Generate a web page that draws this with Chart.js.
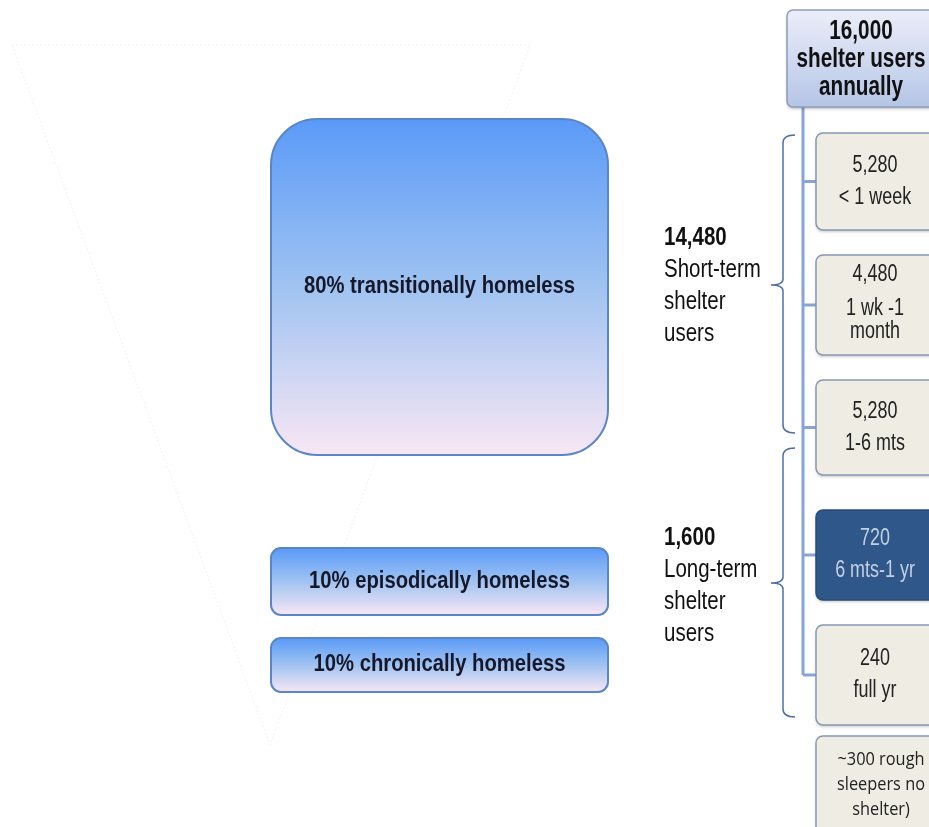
<!DOCTYPE html>
<html>
<head>
<meta charset="utf-8">
<script src="https://cdn.jsdelivr.net/npm/chart.js@4/dist/chart.umd.min.js"></script>
<style>
  html, body { margin: 0; padding: 0; background: #fff; }
  canvas { display: block; }
</style>
</head>
<body>
<canvas id="flow" width="929" height="827"></canvas>
<script>
// Shelter use data
const totalUsers = 16000;
const typeShares = [80, 10, 10];
const typeLabels = ['transitionally homeless', 'episodically homeless', 'chronically homeless'];
const groupTotals = [14480, 1600];
const groupLabels = [['Short-term', 'shelter', 'users'], ['Long-term', 'shelter', 'users']];
const stayCounts = [5280, 4480, 5280, 720, 240];
const stayLabels = [['< 1 week'], ['1 wk -1', 'month'], ['1-6 mts'], ['6 mts-1 yr'], ['full yr']];
const roughSleepers = 300;

// layout, in page pixels (scales run 0..929 and 0..827)
const typeBoxes = [[271, 119, 608, 455, 46], [271, 548, 608, 615, 10], [271, 638, 608, 692, 10]];
const stayBoxes = [[816, 133, 940, 230], [816, 255, 940, 355], [816, 380, 940, 475], [816, 510, 940, 600], [816, 625, 940, 725]];
const groupBraces = [[135, 433, 285], [448, 717, 583]];
const sans = '"Liberation Sans", Arial, sans-serif';
const fmt = n => n.toLocaleString('en-US');

// condensed text: no narrow face installed, so squeeze horizontally
function squeezed(c, t, x, y, sx, align) {
  c.save();
  c.translate(x, y);
  c.scale(sx, 1);
  c.textAlign = align || 'center';
  c.textBaseline = 'middle';
  c.fillText(t, 0, 0);
  c.restore();
}

const diagram = {
  id: 'diagram',
  afterDraw(chart) {
    const c = chart.ctx, sx = chart.scales.x, sy = chart.scales.y;
    const X = v => sx.getPixelForValue(v), Y = v => sy.getPixelForValue(v);
    c.save();

    // faint funnel behind the left boxes
    c.strokeStyle = '#f1f1f1';
    c.lineWidth = 1;
    c.setLineDash([2, 2]);
    c.beginPath();
    c.moveTo(X(12), Y(45)); c.lineTo(X(530), Y(45)); c.lineTo(X(270), Y(745)); c.closePath();
    c.stroke();
    c.setLineDash([]);

    // homeless type boxes
    typeBoxes.forEach((b, i) => {
      const [x0, y0, x1, y1, r] = b;
      const g = c.createLinearGradient(0, Y(y0), 0, Y(y1));
      g.addColorStop(0, '#5a9af8');
      g.addColorStop(0.5, '#a0c3f1');
      g.addColorStop(1, '#f8e7f4');
      c.beginPath();
      c.roundRect(X(x0), Y(y0), X(x1) - X(x0), Y(y1) - Y(y0), r);
      c.fillStyle = g; c.fill();
      c.strokeStyle = '#5b86c6'; c.lineWidth = 2; c.stroke();
      c.fillStyle = '#16182a';
      c.font = 'bold 23px ' + sans;
      squeezed(c, typeShares[i] + '% ' + typeLabels[i], X((x0 + x1) / 2), Y((y0 + y1) / 2), 0.88);
    });

    // connector from the total box
    c.strokeStyle = '#86a5d6';
    c.lineWidth = 3;
    c.beginPath();
    c.moveTo(X(803), Y(105));
    c.lineTo(X(803), Y((stayBoxes[4][1] + stayBoxes[4][3]) / 2));
    stayBoxes.forEach(b => {
      const my = (b[1] + b[3]) / 2;
      c.moveTo(X(803), Y(my)); c.lineTo(X(b[0]), Y(my));
    });
    c.stroke();

    // total box
    let g = c.createLinearGradient(0, Y(10), 0, Y(107));
    g.addColorStop(0, '#eceef9');
    g.addColorStop(1, '#b5c5e6');
    c.shadowColor = 'rgba(0,0,0,0.25)'; c.shadowBlur = 3; c.shadowOffsetY = 2;
    c.beginPath();
    c.roundRect(X(787), Y(10), X(945) - X(787), Y(107) - Y(10), 6);
    c.fillStyle = g; c.fill();
    c.shadowColor = 'transparent';
    c.strokeStyle = '#8d9cb8'; c.lineWidth = 1.5; c.stroke();
    c.fillStyle = '#111';
    c.font = 'bold 28px ' + sans;
    [fmt(totalUsers), 'shelter users', 'annually'].forEach((t, k) => squeezed(c, t, X(861), Y(31 + k * 28), 0.74));

    // length of stay boxes
    stayBoxes.forEach((b, i) => {
      const [x0, y0, x1, y1] = b;
      const dark = stayCounts[i] === 720;
      c.shadowColor = 'rgba(0,0,0,0.2)'; c.shadowBlur = 3; c.shadowOffsetY = 2;
      c.beginPath();
      c.roundRect(X(x0), Y(y0), X(x1) - X(x0), Y(y1) - Y(y0), 7);
      c.fillStyle = dark ? '#2f5789' : '#eeece3'; c.fill();
      c.shadowColor = 'transparent';
      c.strokeStyle = dark ? '#2a4b78' : '#8797b4'; c.lineWidth = 1.5; c.stroke();
      c.fillStyle = dark ? '#c3d0e4' : '#222';
      c.font = '23px ' + sans;
      const lines = [fmt(stayCounts[i])].concat(stayLabels[i]);
      const cx = X(875), my = (y0 + y1) / 2;
      const top = lines.length === 2 ? my - 16 : my - 30;
      const steps = lines.length === 2 ? [0, 32] : [0, 34, 57];
      lines.forEach((t, k) => squeezed(c, t, cx, Y(top + steps[k]), 0.78));
    });

    // rough sleepers box
    c.shadowColor = 'rgba(0,0,0,0.2)'; c.shadowBlur = 3; c.shadowOffsetY = 2;
    c.beginPath();
    c.roundRect(X(816), Y(736), X(940) - X(816), Y(840) - Y(736), 7);
    c.fillStyle = '#eeece3'; c.fill();
    c.shadowColor = 'transparent';
    c.strokeStyle = '#8797b4'; c.lineWidth = 1.5; c.stroke();
    c.fillStyle = '#222';
    c.font = '19px "Open Sans", ' + sans;
    ['~' + roughSleepers + ' rough', 'sleepers no', 'shelter)'].forEach((t, k) => squeezed(c, t, X(881), Y(760 + k * 25), 0.86));

    // braces and group labels
    c.strokeStyle = '#4d70a6';
    c.lineWidth = 1.5;
    groupBraces.forEach((b, i) => {
      const [t, btm, tip] = b;
      c.beginPath();
      c.moveTo(X(795), Y(t)); c.quadraticCurveTo(X(783), Y(t), X(783), Y(t + 8));
      c.lineTo(X(783), Y(tip - 6)); c.quadraticCurveTo(X(783), Y(tip), X(771), Y(tip));
      c.quadraticCurveTo(X(783), Y(tip), X(783), Y(tip + 6));
      c.lineTo(X(783), Y(btm - 8)); c.quadraticCurveTo(X(783), Y(btm), X(795), Y(btm));
      c.stroke();

      const baseY = i === 0 ? 238 : 538;
      c.fillStyle = '#111';
      c.font = 'bold 25px ' + sans;
      squeezed(c, fmt(groupTotals[i]), X(664), Y(baseY), 0.82, 'left');
      c.font = '25px ' + sans;
      groupLabels[i].forEach((t, k) => squeezed(c, t, X(664), Y(baseY + 32 * (k + 1)), 0.82, 'left'));
    });

    c.restore();
  }
};

new Chart(document.getElementById('flow'), {
  type: 'scatter',
  data: { datasets: [{ data: [] }] },
  options: {
    responsive: false,
    animation: false,
    layout: { padding: 0 },
    plugins: { legend: { display: false }, tooltip: { enabled: false } },
    scales: {
      x: { type: 'linear', min: 0, max: 929, display: false },
      y: { type: 'linear', min: 0, max: 827, reverse: true, display: false }
    }
  },
  plugins: [diagram]
});
</script>
</body>
</html>
